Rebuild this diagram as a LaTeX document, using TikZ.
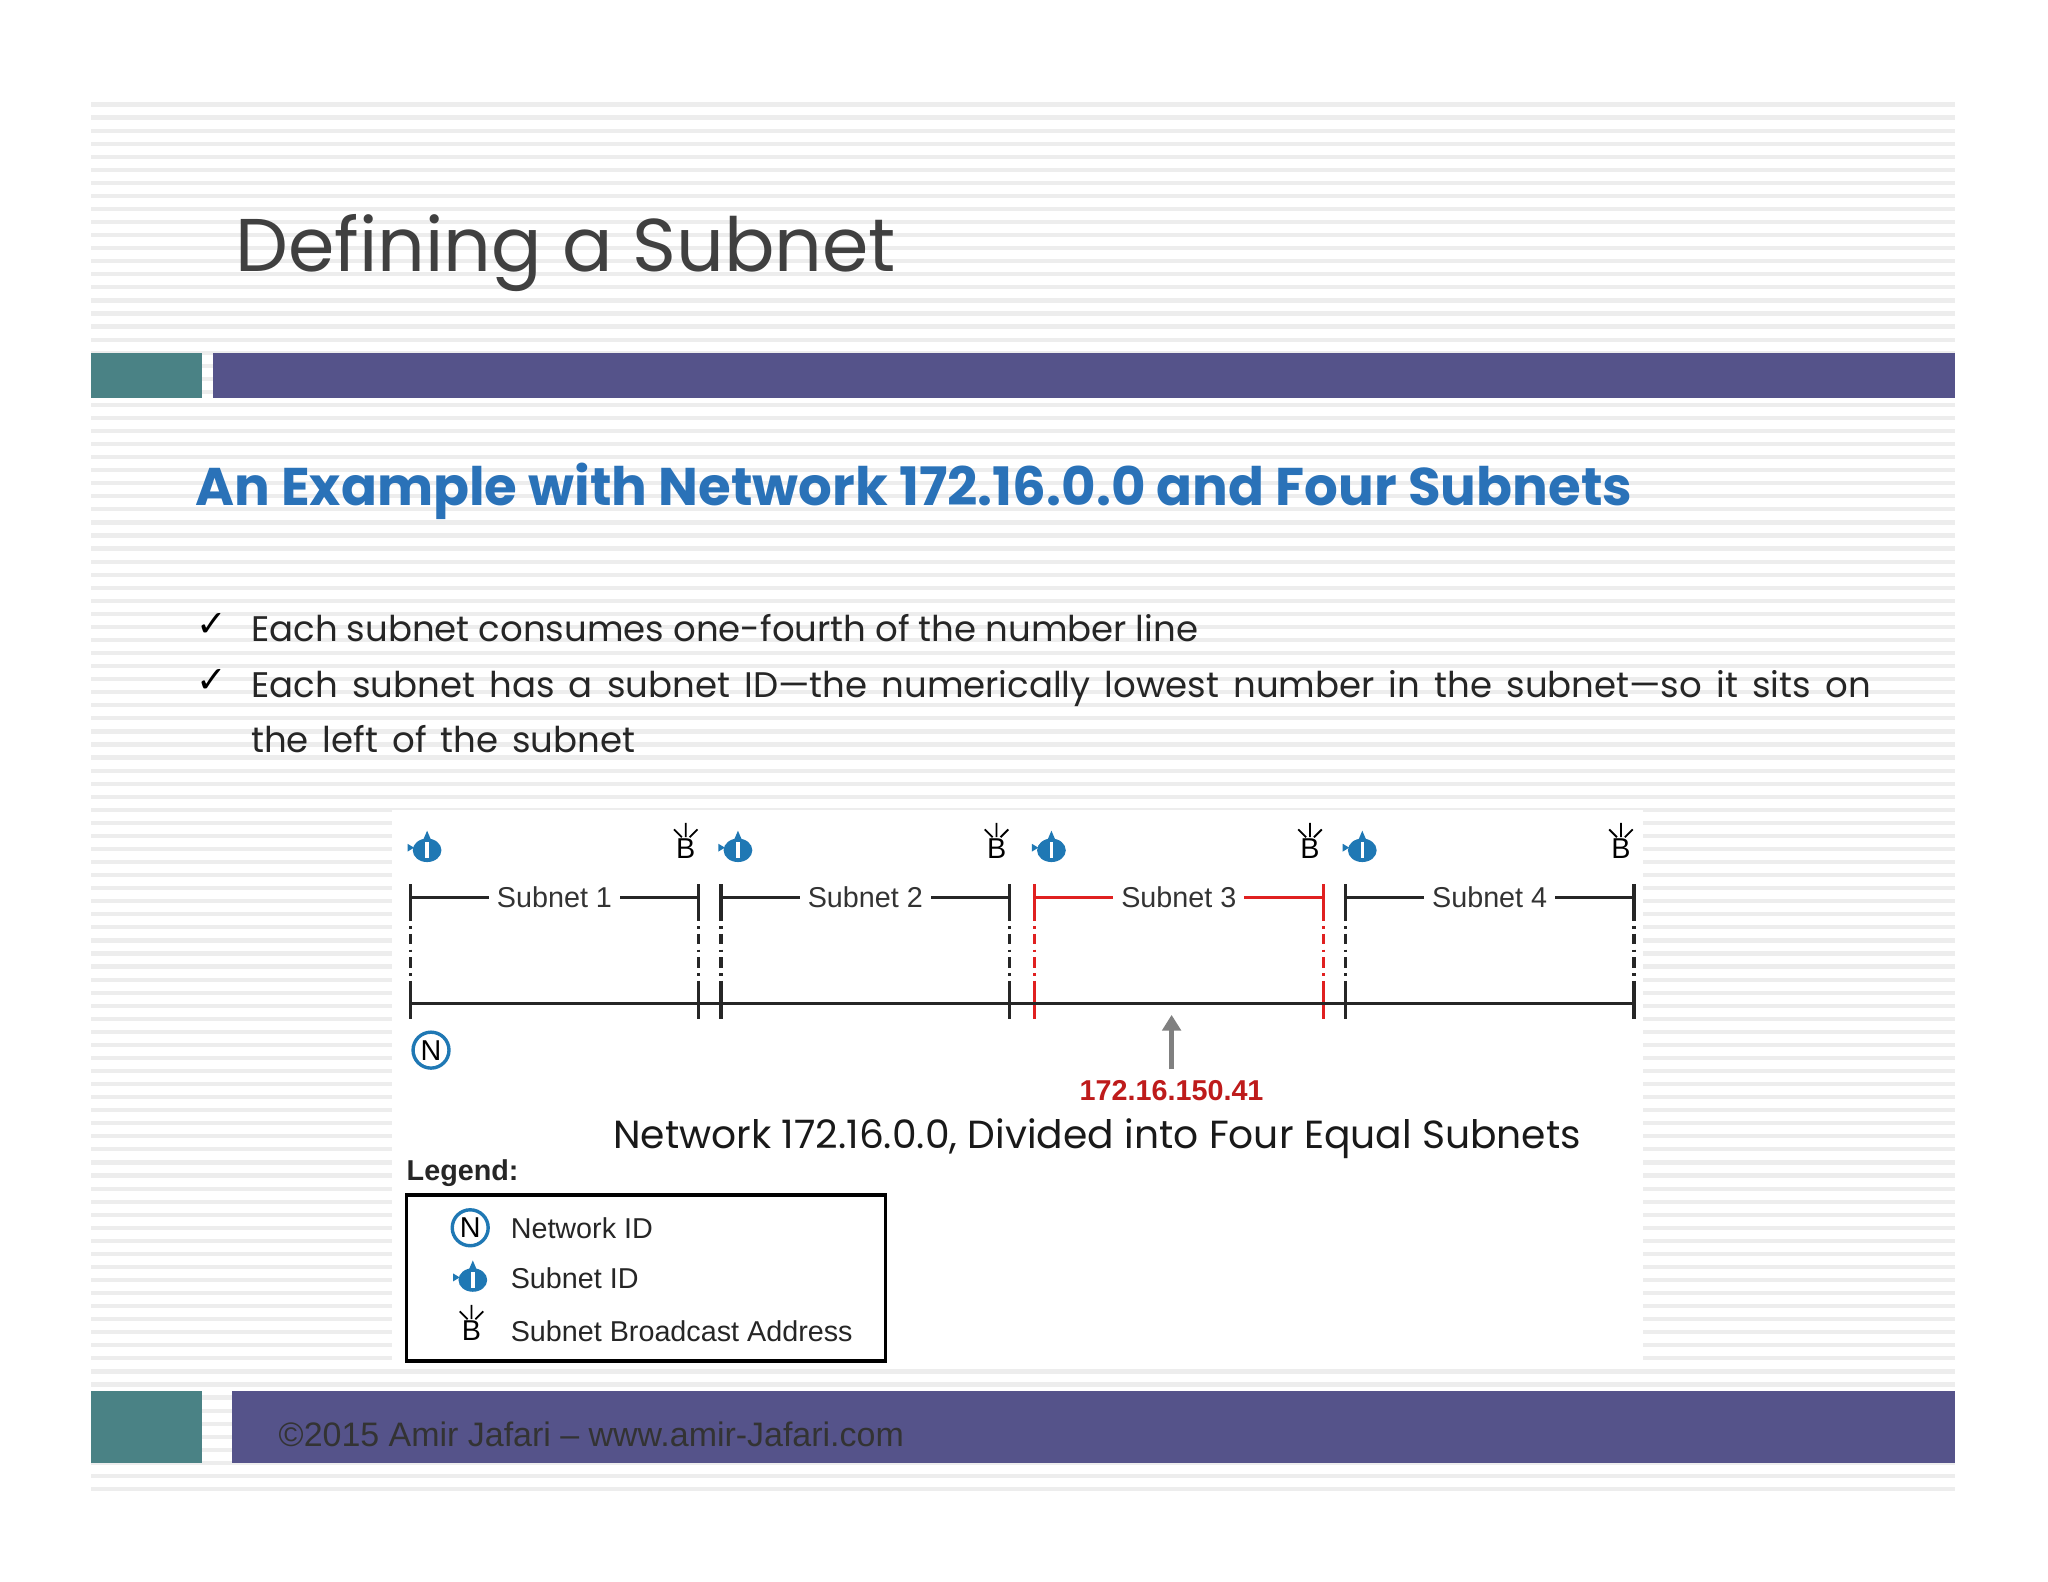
\documentclass[tikz,border=0pt]{standalone}
\usepackage{fontspec}
\setmainfont{Poppins}
\newfontfamily\arial{Liberation Sans}
\newfontfamily\dvs{DejaVu Sans}
\usetikzlibrary{arrows.meta,calc}
\definecolor{tealc}{HTML}{4A8285}
\definecolor{purp}{HTML}{55538A}
\definecolor{blueT}{HTML}{2A72B8}
\definecolor{iconb}{HTML}{1F78B4}
\definecolor{redl}{HTML}{E02020}
\definecolor{stripe}{HTML}{EDEDED}
\tikzset{
  lbl/.style={font=\arial\fontsize{11}{13}\selectfont, fill=white, inner sep=3pt, text=black!80},
  nl/.style={line width=1.2pt, black!85},
  dsh/.style={line width=1.2pt, black!85, dash pattern=on 4pt off 2pt on 1pt off 2pt},
  bul/.style={anchor=base west, font=\fontsize{13.6}{18}\selectfont, text=black!85, inner sep=0},
}
\newcommand{\sid}[1]{%
  \begin{scope}[shift={(#1)}]
    \fill[iconb] (1,1) ellipse (11 and 9);
    \fill[iconb] (-2,-7) -- (1,-14) -- (4,-7) -- cycle;
    \fill[iconb] (-14,-4) -- (-9,-1) -- (-14,2) -- cycle;
    \draw[white, line width=1.3pt] (1,-5) -- (1,7);
  \end{scope}}
\newcommand{\bic}[1]{%
  \node[font=\arial\fontsize{11}{13}\selectfont, inner sep=0] at (#1) {B};
  \draw[line width=0.7pt] ($(#1)+(0,-9)$) -- ($(#1)+(0,-20)$) ($(#1)+(-3,-9)$) -- ($(#1)+(-9,-15)$) ($(#1)+(3,-9)$) -- ($(#1)+(9,-15)$);}
\begin{document}
\begin{tikzpicture}[x=0.5pt,y=-0.5pt]
\useasboundingbox (0,0) rectangle (1568,1211);
\fill[white] (0,0) rectangle (1568,1211);
\foreach \y in {80,90,...,1140} \draw[stripe, line width=1.6pt] (70,\y) -- (1497,\y);
\node[anchor=base west, font=\fontsize{28.6}{34}\selectfont, text=black!75, inner sep=0] (title) at (180,208) {Defining a Subnet};
\fill[tealc] (70,270) rectangle (155,305);
\fill[purp] (163,270) rectangle (1497,305);
\node[anchor=base west, font=\bfseries\fontsize{20.3}{24}\selectfont, text=blueT, inner sep=0] (sub) at (149,387) {An Example with Network 172.16.0.0 and Four Subnets};
\node[anchor=base west, font=\dvs\fontsize{14}{16}\selectfont, inner sep=0] (c1) at (150,487) {✓};
\node[anchor=base west, font=\dvs\fontsize{14}{16}\selectfont, inner sep=0] (c2) at (150,530) {✓};
\node[bul] (b1) at (192,491) {\makebox[362.5pt][s]{Each subnet consumes one-fourth of the number line}};
\node[bul] (b2) at (192,534) {\makebox[620pt][s]{Each subnet has a subnet ID—the numerically lowest number in the subnet—so it sits on}};
\node[bul] (b3) at (192,576) {\makebox[147pt][s]{the left of the subnet}};
\fill[white] (300,620) rectangle (1258,1045);
\foreach \a/\b/\n/\c in {314/535/1/black!85,552/773/2/black!85,792/1013/3/redl,1030/1251/4/black!85}{
  \draw[line width=1.2pt, \c] (\a,677) -- (\a,697) (\b,677) -- (\b,697) (\a,687) -- (\b,687);
  \node[lbl] (s\n) at ({(\a+\b)/2},687) {Subnet \n};
  \draw[dsh, \c] (\a,697) -- (\a,757) (\b,697) -- (\b,757);
  \draw[line width=1.2pt, \c] (\a,757) -- (\a,780) (\b,757) -- (\b,780);
  \sid{\a+12,650}
  \bic{\b-10,650}
}
\draw[nl] (314,768) -- (1251,768);
\node[draw=iconb, circle, line width=1.3pt, inner sep=1pt, font=\arial\fontsize{11}{13}\selectfont] (nid) at (330,804) {N};
\node[font=\arial\bfseries\fontsize{11}{13}\selectfont, text=redl!85!black, inner sep=1pt] (ip) at (897,835) {172.16.150.41};
\coordinate (ax) at (897,777);
\draw[-{Triangle[length=6pt,width=7pt]}, line width=2pt, gray] (ip.north) ++(0,-6) -- (ax);
\node[font=\fontsize{15}{18}\selectfont, text=black!90, inner sep=0] (cap) at (840,872) {Network 172.16.0.0, Divided into Four Equal Subnets};
\node[anchor=base west, font=\arial\bfseries\fontsize{11}{13}\selectfont, text=black!85, inner sep=0] (leg) at (311,904) {Legend:};
\draw[line width=1.3pt] (311,915) rectangle (678,1042);
\node[draw=iconb, circle, line width=1.3pt, inner sep=1pt, font=\arial\fontsize{11}{13}\selectfont] (ln) at (360,940) {N};
\sid{361,979}
\bic{361,1019}
\node[anchor=west, font=\arial\fontsize{11}{13}\selectfont, text=black!85] (t1) at (384,940) {Network ID};
\node[anchor=west, font=\arial\fontsize{11}{13}\selectfont, text=black!85] (t2) at (384,979) {Subnet ID};
\node[anchor=west, font=\arial\fontsize{11}{13}\selectfont, text=black!85] (t3) at (384,1019) {Subnet Broadcast Address};
\fill[tealc] (70,1065) rectangle (155,1120);
\fill[purp] (178,1065) rectangle (1497,1120);
\node[anchor=west, font=\arial\fontsize{13}{15}\selectfont, text=black!80, inner sep=0] (foot) at (213,1098) {©2015 Amir Jafari – www.amir-Jafari.com};
\end{tikzpicture}
\end{document}
